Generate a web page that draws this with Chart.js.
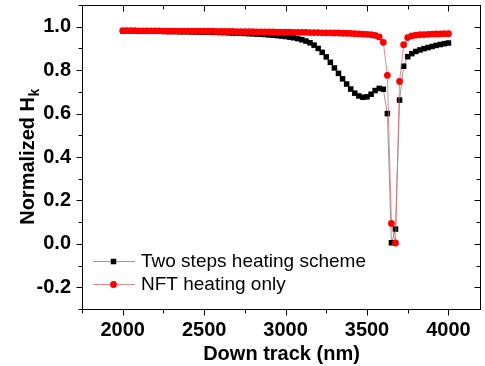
<!DOCTYPE html>
<html><head><meta charset="utf-8">
<script src="https://cdn.jsdelivr.net/npm/chart.js@4/dist/chart.umd.min.js"></script>
<style>html,body{margin:0;padding:0;background:#fff;}#wrap{width:485px;height:366px;}</style>
</head><body><div id="wrap"><canvas id="c" width="485" height="366"></canvas></div>
<script>
const downTrack = [2000,2025,2050,2075,2100,2125,2150,2175,2200,2225,2250,2275,2300,2325,2350,2375,2400,2425,2450,2475,2500,2525,2550,2575,2600,2625,2650,2675,2700,2725,2750,2775,2800,2825,2850,2875,2900,2925,2950,2975,3000,3025,3050,3075,3100,3125,3150,3175,3200,3225,3250,3275,3300,3325,3350,3375,3400,3425,3450,3475,3500,3525,3550,3575,3600,3625,3650,3675,3700,3725,3750,3775,3800,3825,3850,3875,3900,3925,3950,3975,4000];
const twoSteps = [0.981,0.981,0.981,0.981,0.980,0.980,0.980,0.980,0.979,0.979,0.979,0.978,0.978,0.978,0.977,0.977,0.977,0.976,0.976,0.975,0.975,0.975,0.974,0.974,0.973,0.973,0.972,0.971,0.971,0.970,0.969,0.968,0.967,0.966,0.965,0.964,0.962,0.961,0.959,0.957,0.955,0.952,0.949,0.945,0.940,0.934,0.926,0.915,0.900,0.882,0.861,0.836,0.810,0.785,0.760,0.736,0.713,0.694,0.681,0.675,0.677,0.689,0.706,0.716,0.712,0.600,0.005,0.068,0.662,0.818,0.862,0.876,0.886,0.893,0.899,0.904,0.909,0.914,0.918,0.922,0.925];
const nftOnly = [0.982,0.982,0.982,0.982,0.981,0.981,0.981,0.981,0.981,0.981,0.980,0.980,0.980,0.980,0.980,0.980,0.980,0.979,0.979,0.979,0.979,0.979,0.979,0.978,0.978,0.978,0.978,0.978,0.977,0.977,0.977,0.977,0.977,0.976,0.976,0.976,0.976,0.976,0.975,0.975,0.975,0.975,0.974,0.974,0.974,0.974,0.973,0.973,0.973,0.972,0.972,0.972,0.971,0.971,0.970,0.970,0.969,0.968,0.967,0.966,0.965,0.963,0.960,0.953,0.928,0.776,0.094,0.004,0.748,0.917,0.950,0.958,0.961,0.963,0.964,0.965,0.966,0.967,0.967,0.968,0.968];
const seriesNames = ['Two steps heating scheme','NFT heating only'];
const xMajorTicks = [2000,2500,3000,3500,4000];
const xMinorTicks = [1750,2250,2750,3250,3750];
const yMajorTicks = [-0.2,0.0,0.2,0.4,0.6,0.8,1.0];
const yMinorTicks = [-0.3,-0.1,0.1,0.3,0.5,0.7,0.9,1.1];
const xTitle = 'Down track (nm)';
const yTitleMain = 'Normalized H';
const yTitleSub = 'k';

const FONT = '"Liberation Sans", Arial, sans-serif';
const toPts = ys => downTrack.map((x,i)=>({x:x,y:ys[i]}));

const styles = [
  {line:'rgba(110,110,110,0.7)', fill:'#000000', shape:'rect', r:3.9},
  {line:'rgba(225,100,100,0.75)', fill:'#ff0000', shape:'circle', r:3.4}
];

const framePlugin = {
  id:'frame',
  afterDraw(chart){
    const ctx = chart.ctx, a = chart.chartArea;
    const xs = chart.scales.x, ys = chart.scales.y;
    ctx.save();
    ctx.strokeStyle = '#000'; ctx.lineWidth = 1;
    const L = Math.round(a.left)+0.5, R = Math.round(a.right)-0.5, T = Math.round(a.top)+0.5, B = Math.round(a.bottom)+0.5;
    ctx.strokeRect(L, T, R-L, B-T);
    ctx.beginPath();
    const xt = (v,len)=>{const p=Math.round(xs.getPixelForValue(v))+0.5; ctx.moveTo(p,B); ctx.lineTo(p,B+len); ctx.moveTo(p,T); ctx.lineTo(p,T+len);};
    const yt = (v,len)=>{const p=Math.round(ys.getPixelForValue(v))+0.5; ctx.moveTo(L,p); ctx.lineTo(L-len,p); ctx.moveTo(R,p); ctx.lineTo(R-len,p);};
    xMajorTicks.forEach(v=>xt(v,6)); xMinorTicks.forEach(v=>xt(v,4));
    yMajorTicks.forEach(v=>yt(v,6)); yMinorTicks.forEach(v=>yt(v,4));
    ctx.stroke();
    // axis titles
    ctx.fillStyle = '#000';
    ctx.font = 'bold 20px ' + FONT;
    ctx.textAlign = 'center'; ctx.textBaseline = 'alphabetic';
    ctx.fillText(xTitle, (a.left+a.right)/2, 360);
    ctx.save();
    ctx.translate(27, (a.top+a.bottom)/2);
    ctx.rotate(-Math.PI/2);
    ctx.font = 'bold 20px ' + FONT;
    const w1 = ctx.measureText(yTitleMain).width;
    ctx.font = 'bold 14px ' + FONT;
    const w2 = ctx.measureText(yTitleSub).width;
    const sx = -(w1+w2)/2;
    ctx.textAlign = 'left';
    ctx.font = 'bold 20px ' + FONT;
    ctx.fillText(yTitleMain, sx, 7);
    ctx.font = 'bold 14px ' + FONT;
    ctx.fillText(yTitleSub, sx+w1+0.5, 12);
    ctx.restore();
    // legend
    const ly = [261, 284];
    seriesNames.forEach((name,i)=>{
      const st = styles[i], y = ly[i];
      ctx.strokeStyle = st.line; ctx.lineWidth = 1;
      ctx.beginPath(); ctx.moveTo(93, y+0.5); ctx.lineTo(135, y+0.5); ctx.stroke();
      ctx.fillStyle = st.fill;
      ctx.beginPath();
      if (st.shape==='rect'){ const s = st.r*Math.SQRT1_2; ctx.rect(113.5-s, y+0.5-s, 2*s, 2*s); }
      else { ctx.arc(113.5, y+0.5, st.r, 0, Math.PI*2); }
      ctx.fill();
      ctx.fillStyle = '#000';
      ctx.font = '19px ' + FONT;
      ctx.textAlign = 'left'; ctx.textBaseline = 'middle';
      ctx.fillText(name, 141, y+1);
    });
    ctx.restore();
  }
};

const mkSet = (i, ys) => ({
  label: seriesNames[i],
  data: toPts(ys),
  borderColor: styles[i].line,
  borderWidth: 1,
  pointStyle: styles[i].shape,
  pointRadius: styles[i].r,
  pointBackgroundColor: styles[i].fill,
  pointBorderColor: styles[i].fill,
  pointBorderWidth: 0,
  tension: 0,
  fill: false
});

new Chart(document.getElementById('c'), {
  type: 'line',
  data: { datasets: [ mkSet(1, nftOnly), mkSet(0, twoSteps) ] },
  options: {
    responsive: false, animation: false, devicePixelRatio: 1,
    layout: { padding: { top: 5, right: 1, left: 0, bottom: 0 } },
    plugins: { legend: { display: false }, tooltip: { enabled: false } },
    scales: {
      x: {
        type: 'linear', min: 1750, max: 4200,
        afterBuildTicks: s => { s.ticks = xMajorTicks.map(v=>({value:v})); },
        afterFit: s => { s.height = 57; s.paddingLeft = 0; s.paddingRight = 0; },
        ticks: { color:'#000', font:{family:FONT, size:20, weight:'bold'}, padding: 9, maxRotation:0, autoSkip:false, callback: v => String(v) },
        grid: { display:false, drawTicks:false },
        border: { display:false }
      },
      y: {
        type: 'linear', min: -0.3, max: 1.1,
        afterBuildTicks: s => { s.ticks = yMajorTicks.map(v=>({value:v})); },
        afterFit: s => { s.width = 82; s.paddingTop = 0; s.paddingBottom = 0; },
        ticks: { color:'#000', font:{family:FONT, size:20, weight:'bold'}, padding: 11, autoSkip:false, callback: v => Number(v).toFixed(1) },
        grid: { display:false, drawTicks:false },
        border: { display:false }
      }
    }
  },
  plugins: [framePlugin]
});
</script>
</body></html>
